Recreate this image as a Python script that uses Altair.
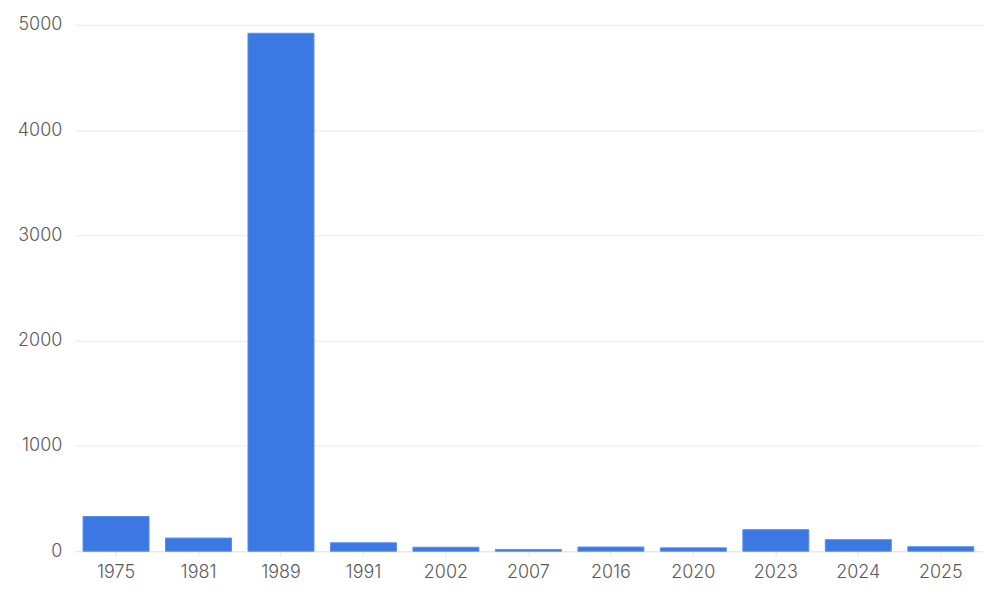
import altair as alt
import pandas as pd

years = ["1975", "1981", "1989", "1991", "2002", "2007", "2016", "2020", "2023", "2024", "2025"]
values = [330, 125, 4920, 80, 38, 17, 40, 32, 205, 110, 43]

df = pd.DataFrame({"year": years, "value": values})

chart = alt.Chart(df).mark_bar(color="#3b78e2", stroke="#5a8fee", strokeWidth=1).encode(
    x=alt.X("year:N", sort=years, title=None,
            scale=alt.Scale(paddingInner=0.2, paddingOuter=0.1),
            axis=alt.Axis(labelAngle=0, labelColor="#5a5a5a", labelFontSize=18, labelFont="Inter",
                          labelFontWeight=300,
                          tickColor="#e6e6e6", tickSize=5, labelPadding=7,
                          domainColor="#e6e6e6", grid=False)),
    y=alt.Y("value:Q", title=None,
            scale=alt.Scale(domain=[0, 5000]),
            axis=alt.Axis(values=[0, 1000, 2000, 3000, 4000, 5000], format="d", labelColor="#5a5a5a",
                          labelFontSize=18, labelFont="Inter", labelFontWeight=300,
                          gridColor="#ebebeb",
                          domain=False, ticks=False, labelPadding=13)),
).properties(
    width=910, height=528,
    autosize=alt.AutoSizeParams(type="none"),
    padding={"left": 67, "top": 16, "right": 10, "bottom": 40},
).configure_view(stroke=None).configure_axisY(
    domain=True, domainColor="#f0f0f0"
)

chart.save("out.html", embed_options={"renderer": "svg", "actions": False})
